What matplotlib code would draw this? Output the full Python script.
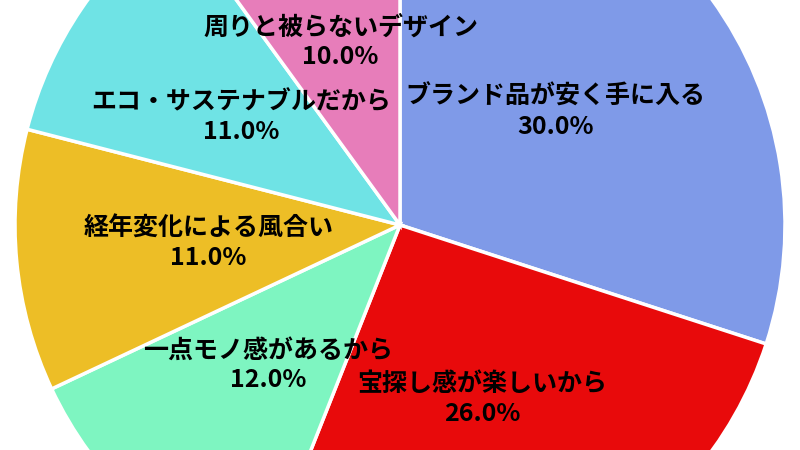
import matplotlib.pyplot as plt

plt.rcParams['font.family'] = ['Noto Sans CJK JP', 'DejaVu Sans']

labels = ["ブランド品が安く手に入る", "宝探し感が楽しいから", "一点モノ感があるから",
          "経年変化による風合い", "エコ・サステナブルだから", "周りと被らないデザイン"]
values = [30.0, 26.0, 12.0, 11.0, 11.0, 10.0]
colors = ["#7F9AE8", "#E80A0B", "#7EF5C1", "#EDBE26", "#6FE3E5", "#E77DBA"]

fig = plt.figure(figsize=(8, 4.5), dpi=100)
ax = fig.add_axes([0, 0, 1, 1])

texts = [f"{l}\n{v:.1f}%" for l, v in zip(labels, values)]
wedges, lbls = ax.pie(values, colors=colors, startangle=90, counterclock=False,
                      radius=385, center=(0, 0), labels=texts, labeldistance=0.5,
                      wedgeprops=dict(edgecolor="white", linewidth=2.5),
                      textprops=dict(fontsize=18, fontweight="bold", ha="center",
                                     va="center", linespacing=1.3))
for t in lbls:
    t.set_horizontalalignment("center")
    t.set_multialignment("center")

ax.set_xlim(-400, 400)
ax.set_ylim(-225, 225)
ax.set_aspect("equal")
ax.axis("off")

fig.savefig("out.png", dpi=100)
